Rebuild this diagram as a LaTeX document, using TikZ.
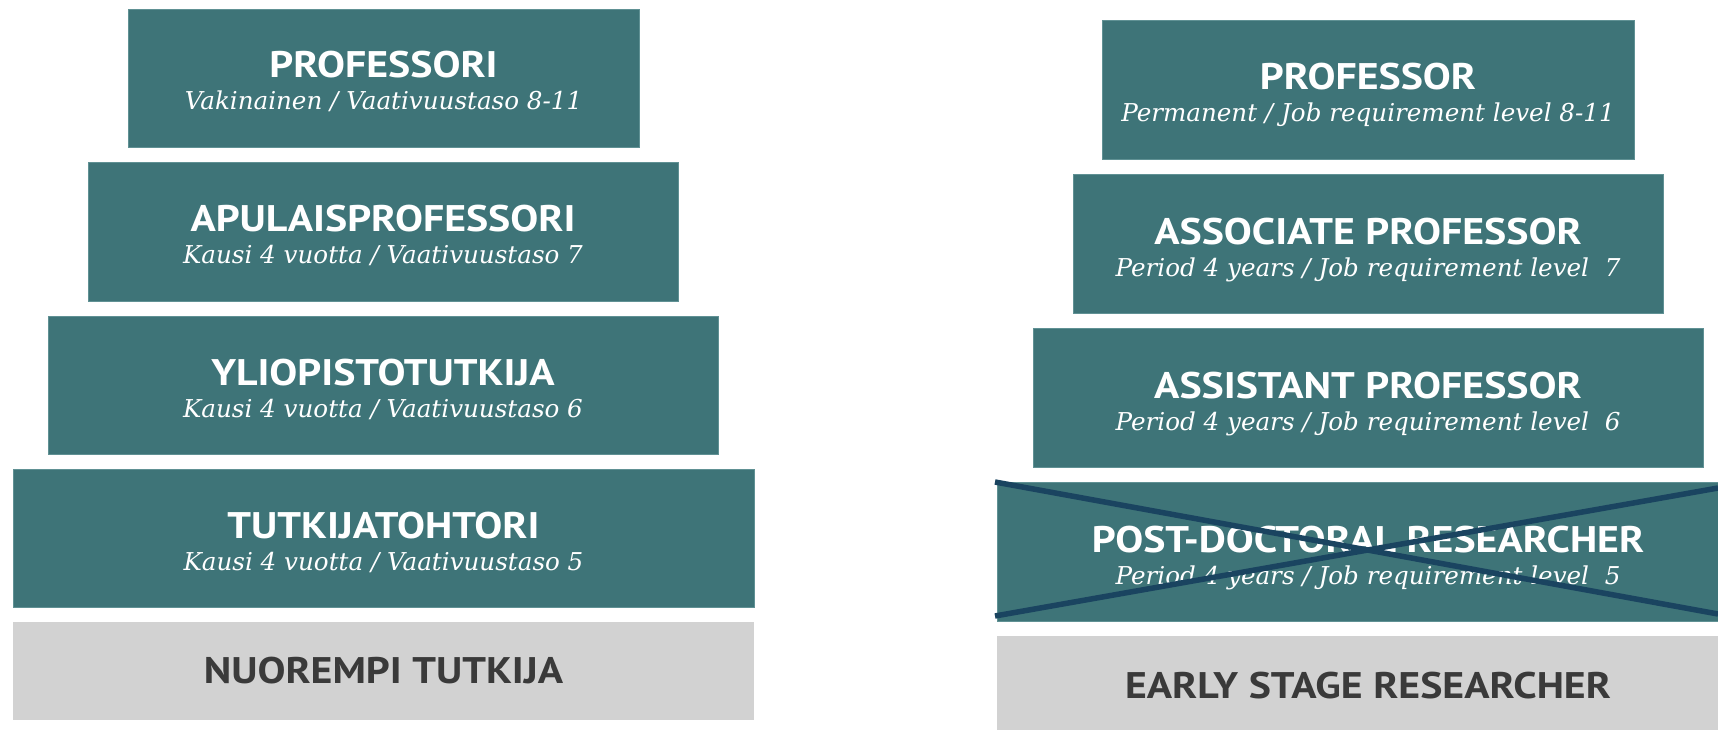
\documentclass[tikz,border=0pt]{standalone}
\usepackage{fontspec}
\setmainfont{DejaVu Serif}
\newfontfamily\headfont[FakeStretch=1.13]{PT Sans}
\begin{document}
\begin{tikzpicture}[x=1pt,y=-1pt]
\definecolor{tealfill}{RGB}{62,116,120}
\definecolor{tealedge}{RGB}{96,145,148}
\definecolor{greyfill}{RGB}{210,210,210}
\definecolor{greytext}{RGB}{58,58,58}
\definecolor{crossline}{RGB}{26,68,96}
\tikzset{
  rung/.style={fill=tealfill, draw=tealedge, line width=0.8pt, inner sep=0pt},
  base/.style={fill=greyfill, draw=none, inner sep=0pt},
  title/.style={anchor=base, inner sep=0pt, text=white, font=\headfont\bfseries\fontsize{37}{40}\selectfont},
  sub/.style={anchor=base, inner sep=0pt, text=white, font=\itshape\fontsize{24.6}{28}\selectfont},
  basetitle/.style={inner sep=0pt, text=greytext, font=\headfont\bfseries\fontsize{37}{40}\selectfont},
  strike/.style={draw=crossline, line width=5.5pt}
}
\useasboundingbox (0,0) rectangle (1718,730);

% Finnish ladder
\path[rung] (128,9) rectangle (639,147);
\node[title] (fiA) at (383.5,78) {PROFESSORI};
\node[sub] (fiAs) at (383.5,110) {Vakinainen / Vaativuustaso 8-11};

\path[rung] (88,162) rectangle (678,301);
\node[title] (fiB) at (383,231) {APULAISPROFESSORI};
\node[sub] (fiBs) at (383,263) {Kausi 4 vuotta / Vaativuustaso 7};

\path[rung] (48,316) rectangle (718,454);
\node[title] (fiC) at (383,385) {YLIOPISTOTUTKIJA};
\node[sub] (fiCs) at (383,417) {Kausi 4 vuotta / Vaativuustaso 6};

\path[rung] (13,469) rectangle (754,607);
\node[title] (fiD) at (383.5,538) {TUTKIJATOHTORI};
\node[sub] (fiDs) at (383.5,570) {Kausi 4 vuotta / Vaativuustaso 5};

\path[base] (13,622) rectangle (754,720);
\node[basetitle] (fiE) at (383.5,671) {NUOREMPI TUTKIJA};

% English ladder
\path[rung] (1102,20) rectangle (1634,159);
\node[title] (enA) at (1368,90) {PROFESSOR};
\node[sub] (enAs) at (1368,122) {Permanent / Job requirement level 8-11};

\path[rung] (1073,174) rectangle (1663,313);
\node[title] (enB) at (1368,244) {ASSOCIATE PROFESSOR};
\node[sub] (enBs) at (1368,276) {Period 4 years / Job requirement level\ \ 7};

\path[rung] (1033,328) rectangle (1703,467);
\node[title] (enC) at (1368,398) {ASSISTANT PROFESSOR};
\node[sub] (enCs) at (1368,430) {Period 4 years / Job requirement level\ \ 6};

\path[rung] (997,482) rectangle (1722,621);
\node[title] (enD) at (1368,552) {POST-DOCTORAL RESEARCHER};
\node[sub] (enDs) at (1368,584) {Period 4 years / Job requirement level\ \ 5};

\path[base] (997,636) rectangle (1722,734);
\node[basetitle] (enE) at (1368,686) {EARLY STAGE RESEARCHER};

% The post-doctoral rung is struck through
\coordinate (xa) at (995,482);
\coordinate (xb) at (1718,614);
\coordinate (xc) at (995,616);
\coordinate (xd) at (1718,488);
\draw[strike] (xa) -- (xb);
\draw[strike] (xc) -- (xd);
\end{tikzpicture}
\end{document}
